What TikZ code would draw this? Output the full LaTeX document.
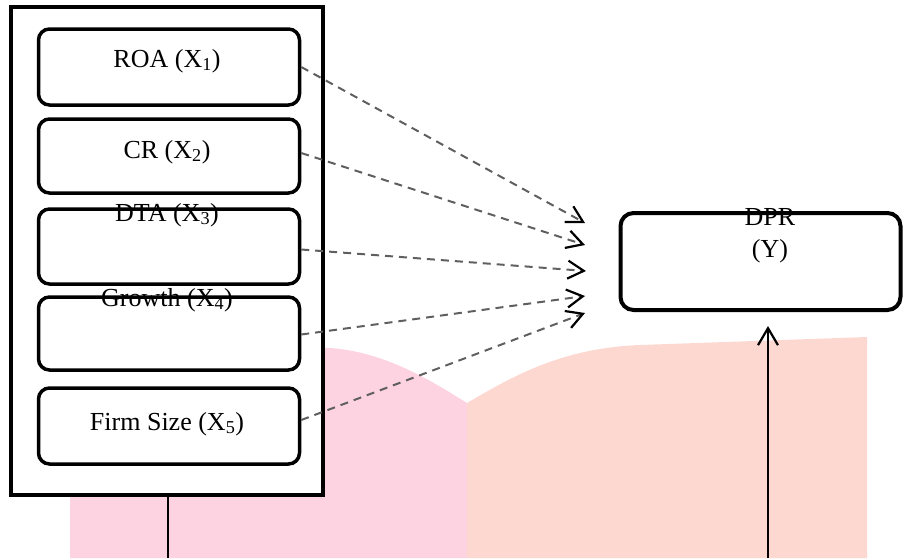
\documentclass[tikz,border=0pt]{standalone}
\usepackage{fontspec}
\setmainfont{Liberation Serif}
\usetikzlibrary{arrows.meta,calc}
\definecolor{pinkL}{RGB}{253,211,225}
\definecolor{pinkR}{RGB}{253,216,209}
\definecolor{dashgray}{RGB}{95,95,95}
\tikzset{
  outerbox/.style={draw=black, line width=4.5pt, fill=white, minimum width=312pt, minimum height=488pt, inner sep=0pt},
  varbox/.style={draw=black, line width=3.5pt, fill=white, rounded corners=11pt, minimum width=261pt, inner sep=0pt},
  dprbox/.style={draw=black, line width=4pt, fill=white, rounded corners=13pt, minimum width=280pt, minimum height=97pt, inner sep=0pt},
  lbl/.style={font=\fontsize{26}{30}\selectfont, inner sep=0pt, anchor=center},
  dasharrow/.style={draw=dashgray, line width=2pt, dash pattern=on 8pt off 6pt,
    -{Straight Barb[length=16pt,width=18pt,line width=2.2pt,color=black]}},
  solidarrow/.style={draw=black, line width=1.8pt,
    -{Straight Barb[length=17pt,width=20pt,line width=2.2pt,color=black]}},
  plainline/.style={draw=black, line width=1.8pt}
}
\begin{document}
\begin{tikzpicture}[x=1pt,y=-1pt]
\useasboundingbox (0,0) rectangle (903,558);
% background
\fill[pinkL] (70,558) -- (70,347) -- (330,348) .. controls (385,352) and (430,380) .. (467,403) -- (467,558) -- cycle;
\fill[pinkR] (467,558) -- (467,403) .. controls (510,378) and (560,348) .. (640,345) -- (867,337) -- (867,558) -- cycle;
% outer box
\node[outerbox] (outer) at (167,251) {};
% variable boxes
\node[varbox, minimum height=76pt] (b1) at (169,67) {};
\node[varbox, minimum height=74pt] (b2) at (169,156) {};
\node[varbox, minimum height=75pt] (b3) at (169,246.5) {};
\node[varbox, minimum height=73pt] (b4) at (169,333.5) {};
\node[varbox, minimum height=76pt] (b5) at (169,426) {};
% labels
\node[lbl] (l1) at (167,61) {ROA (X\textsubscript{1})};
\node[lbl] (l2) at (167,152) {CR (X\textsubscript{2})};
\node[lbl] (l3) at (167,215) {DTA (X\textsubscript{3})};
\node[lbl] (l4) at (167,300) {Growth (X\textsubscript{4})};
\node[lbl] (l5) at (167,424) {Firm Size (X\textsubscript{5})};
% dependent box
\node[dprbox] (dpr) at (760.5,261.5) {};
\node[lbl] (ld) at (770,217) {DPR};
\node[lbl] (ly) at (770,251) {(Y)};
% arrow tips
\coordinate (t1) at (585,223);
\coordinate (t2) at (585,245);
\coordinate (t3) at (586,271);
\coordinate (t4) at (585,296);
\coordinate (t5) at (585,313);
\draw[dasharrow] (b1.east) -- (t1);
\draw[dasharrow] ($(b2.east)+(0,-3)$) -- (t2);
\draw[dasharrow] ($(b3.east)+(0,3)$) -- (t3);
\draw[dasharrow] ($(b4.east)+(0,1)$) -- (t4);
\draw[dasharrow] ($(b5.east)+(0,-6)$) -- (t5);
% bottom lines
\coordinate (lb) at (168,558);
\draw[plainline] (outer.south -| lb) -- (lb);
\coordinate (rb) at (768,558);
\coordinate (rt) at (768,326);
\draw[solidarrow] (rb) -- (rt);
\end{tikzpicture}
\end{document}
